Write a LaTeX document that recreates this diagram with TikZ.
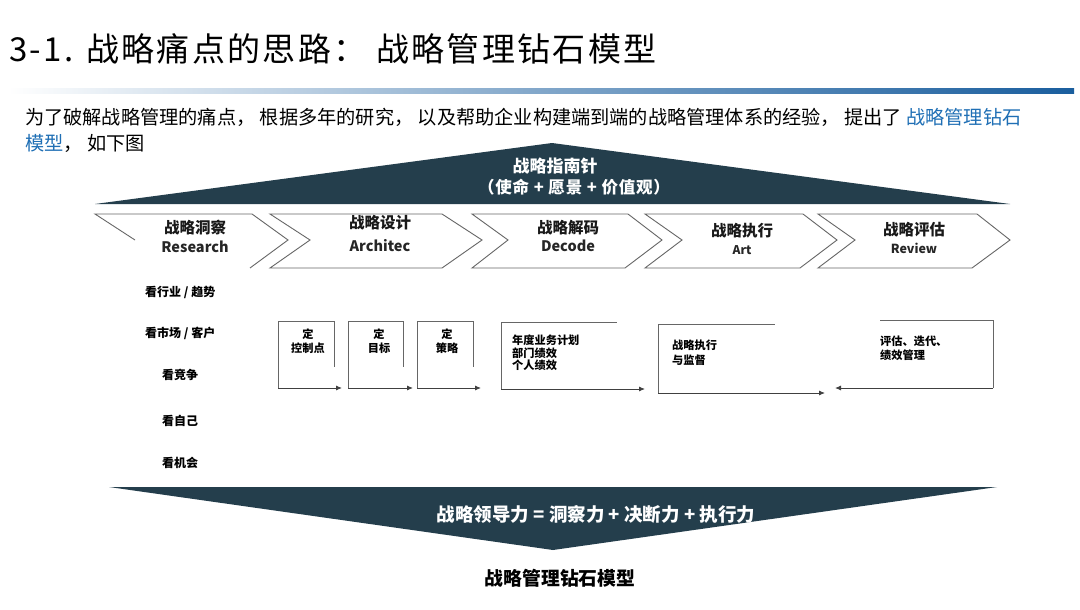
\documentclass[tikz,border=0pt]{standalone}
\usepackage{fontspec}
\setmainfont{Noto Sans CJK SC}
\usetikzlibrary{arrows.meta}
\definecolor{darkteal}{HTML}{243E4C}
\definecolor{lineblue}{HTML}{1A5E9E}
\definecolor{textblue}{HTML}{1F6FB5}
\definecolor{chevgray}{HTML}{666666}
\tikzset{
  chev/.style={draw=chevgray, line width=0.9pt, line join=miter},
  boxline/.style={draw=chevgray, line width=0.9pt},
  arrowline/.style={draw=black!75, line width=0.9pt, -{Latex[length=6pt,width=5pt]}},
  chevcn/.style={font=\fontsize{15.5}{16}\selectfont\bfseries, inner sep=0pt, text=black!90},
  chevlat/.style={font=\fontsize{14.5}{15}\selectfont\bfseries, inner sep=0pt, text=black!85},
  listtxt/.style={font=\fontsize{12}{13}\selectfont\bfseries, inner sep=0pt, anchor=west},
  boxtxt/.style={font=\fontsize{11.2}{12.5}\selectfont\bfseries, inner sep=0pt, align=left, anchor=north west},
  boxtxtc/.style={font=\fontsize{11.2}{14.5}\selectfont\bfseries, inner sep=0pt, align=center},
  whitetxt/.style={text=white, inner sep=0pt}
}
\begin{document}
\begin{tikzpicture}[x=1pt,y=-1pt]
\useasboundingbox (0,0) rectangle (1080,610);
\fill[white] (0,0) rectangle (1080,610);

% title
\node[anchor=west, inner sep=0pt, font=\fontsize{33}{35}\selectfont\addfontfeatures{LetterSpace=7}] (title) at (9,49) {3-1. 战略痛点的思路： 战略管理钻石模型};

% gradient rule
\shade[left color=white, right color=lineblue, middle color=lineblue!55] (8,89) rectangle (1074,93.5);

% paragraph
\node[anchor=west, inner sep=0pt, font=\fontsize{19.2}{20}\selectfont] (para1) at (25,117) {为了破解战略管理的痛点， 根据多年的研究， 以及帮助企业构建端到端的战略管理体系的经验， 提出了 \textcolor{textblue}{战略管理钻石}};
\node[anchor=west, inner sep=0pt, font=\fontsize{19.2}{20}\selectfont] (para2) at (25,143) {\textcolor{textblue}{模型}， 如下图};

% top triangle
\fill[darkteal] (95,204) -- (552,143) -- (1010,204) -- cycle;
\node[whitetxt, font=\fontsize{17}{18}\selectfont\bfseries] (compass) at (555,166) {战略指南针};
\node[whitetxt, font=\fontsize{16.5}{18}\selectfont\bfseries\addfontfeatures{LetterSpace=5}] (values) at (574,187) {（使命 + 愿景 + 价值观）};

% chevrons
\draw[chev] (135,240) -- (95,214) -- (252,214) -- (288,240) -- (250,268);
\draw[chev] (270,214) -- (442,214) -- (482,240) -- (442,268) -- (270,268) -- (310,240) -- cycle;
\draw[chev] (472,214) -- (628,214) -- (662,240) -- (625,268) -- (472,268) -- (508,240) -- cycle;
\draw[chev] (645,214) -- (803,214) -- (837,240) -- (800,268) -- (645,268) -- (682,240) -- cycle;
\draw[chev] (818,214) -- (977,214) -- (1010,240) -- (972,268) -- (818,268) -- (855,240) -- cycle;

\node[chevcn] (c1a) at (195,228) {战略洞察};
\node[chevlat] (c1b) at (195,247) {Research};
\node[chevcn] (c2a) at (380,223) {战略设计};
\node[chevlat] (c2b) at (380,246) {Architec};
\node[chevcn] (c3a) at (568,228) {战略解码};
\node[chevlat] (c3b) at (568,246) {Decode};
\node[chevcn] (c4a) at (742,231) {战略执行};
\node[chevlat, font=\fontsize{12}{13}\selectfont\bfseries] (c4b) at (742,250) {Art};
\node[chevcn] (c5a) at (914,230) {战略评估};
\node[chevlat, font=\fontsize{12.5}{13}\selectfont\bfseries] (c5b) at (914,248) {Review};

% left list
\node[listtxt] (l1) at (145,292) {看行业 / 趋势};
\node[listtxt] (l2) at (145,333) {看市场 / 客户};
\node[listtxt] (l3) at (162,375) {看竞争};
\node[listtxt] (l4) at (162,421) {看自己};
\node[listtxt] (l5) at (162,463) {看机会};

% boxes 1-3
\coordinate (b1bl) at (278,388); \coordinate (b1tl) at (278,321);
\coordinate (b1tr) at (334,321); \coordinate (b1rd) at (334,367); \coordinate (b1end) at (342,388);
\coordinate (b2bl) at (348,388); \coordinate (b2tl) at (348,321);
\coordinate (b2tr) at (403,321); \coordinate (b2rd) at (403,367); \coordinate (b2end) at (413,388);
\coordinate (b3bl) at (417,388); \coordinate (b3tl) at (417,321);
\coordinate (b3tr) at (473,321); \coordinate (b3rd) at (473,367); \coordinate (b3end) at (481,388);
\draw[boxline] (b1bl) -- (b1tl) -- (b1tr) -- (b1rd);
\draw[arrowline] (b1bl) -- (b1end);
\draw[boxline] (b2bl) -- (b2tl) -- (b2tr) -- (b2rd);
\draw[arrowline] (b2bl) -- (b2end);
\draw[boxline] (b3bl) -- (b3tl) -- (b3tr) -- (b3rd);
\draw[arrowline] (b3bl) -- (b3end);
\node[boxtxtc] (t1) at (308,341) {定\\控制点};
\node[boxtxtc] (t2) at (379,341) {定\\目标};
\node[boxtxtc] (t3) at (447,341) {定\\策略};

% box 4
\coordinate (b4bl) at (501,389); \coordinate (b4tl) at (501,322);
\coordinate (b4tr) at (617,322); \coordinate (b4end) at (645,389);
\draw[boxline] (b4bl) -- (b4tl) -- (b4tr);
\draw[arrowline] (b4bl) -- (b4end);
\node[boxtxt, font=\fontsize{11.2}{12.2}\selectfont\bfseries] (t4) at (512,335) {年度业务计划\\部门绩效\\个人绩效};

% box 5
\coordinate (b5bl) at (658,393); \coordinate (b5tl) at (658,324);
\coordinate (b5tr) at (775,324); \coordinate (b5end) at (825,393);
\draw[boxline] (b5bl) -- (b5tl) -- (b5tr);
\draw[arrowline] (b5bl) -- (b5end);
\node[boxtxt, font=\fontsize{11.2}{14.5}\selectfont\bfseries] (t5) at (672,340) {战略执行\\与监督};

% box 6
\coordinate (b6tl) at (880,320); \coordinate (b6tr) at (993,320);
\coordinate (b6br) at (993,388); \coordinate (b6end) at (835,388);
\draw[boxline] (b6tl) -- (b6tr) -- (b6br);
\draw[arrowline] (b6br) -- (b6end);
\node[boxtxt, font=\fontsize{11.2}{14}\selectfont\bfseries] (t6) at (880,336) {评估、迭代、\\绩效管理};

% bottom triangle
\fill[darkteal] (109,487) -- (997,487) -- (553,550) -- cycle;
\node[whitetxt, font=\fontsize{18.5}{19}\selectfont\bfseries] (leader) at (596,514) {战略领导力 = 洞察力 + 决断力 + 执行力};

% caption
\node[inner sep=0pt, font=\fontsize{18.8}{19}\selectfont\bfseries] (caption) at (560,578) {战略管理钻石模型};
\end{tikzpicture}
\end{document}
